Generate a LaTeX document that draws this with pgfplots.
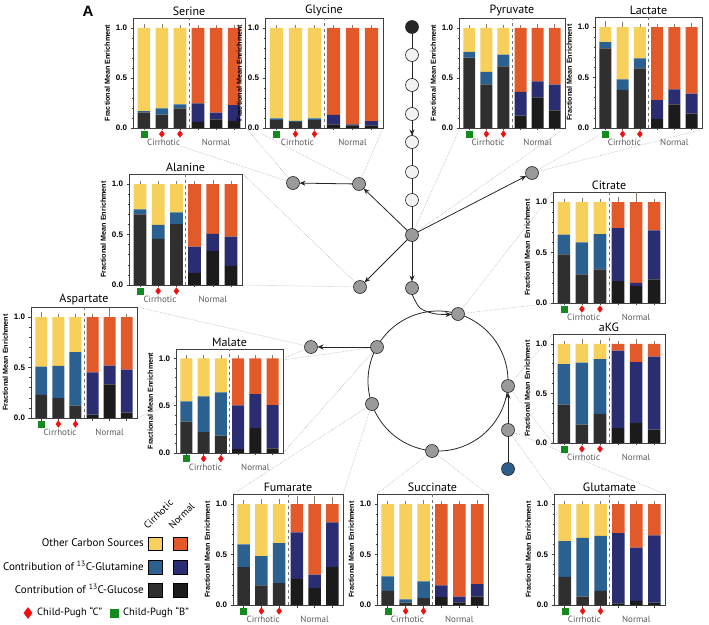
\documentclass[border=0pt]{standalone}
\usepackage{pgfplots}
\pgfplotsset{compat=1.18}
\usepackage{pgfplotstable}
\usetikzlibrary{arrows.meta}
\usepackage{fontspec}
\setmainfont{PT Sans}
\newfontfamily\lib{Liberation Sans}

\definecolor{coth}{HTML}{F7CF5B}
\definecolor{cgln}{HTML}{2A6190}
\definecolor{cglu}{HTML}{2F2F2F}
\definecolor{noth}{HTML}{E2592A}
\definecolor{ngln}{HTML}{2B2D72}
\definecolor{nglu}{HTML}{1B1B1B}
\definecolor{errc}{HTML}{8A7A66}
\definecolor{cpB}{HTML}{138A1E}
\definecolor{cpC}{HTML}{F01010}
\definecolor{nodeg}{HTML}{9A9A9A}
\definecolor{nodew}{HTML}{F2F2F2}
\definecolor{nodeb}{HTML}{2C5F8C}
\definecolor{dotc}{HTML}{B5B5B5}

\pgfplotstableread{
x cg cq co ng nq no t e
0 0.154 0.014 0.832 0 0 0 1 0.010
1 0.134 0.061 0.805 0 0 0 1 0.012
2 0.195 0.040 0.765 0 0 0 1 0.006
3 0 0 0 0.060 0.185 0.755 1 0.008
4 0 0 0 0.087 0.067 0.846 1 0.008
5 0 0 0 0.070 0.158 0.772 1 0.008
}\tSerine
\pgfplotstableread{
x cg cq co ng nq no t e
0 0.078 0.017 0.905 0 0 0 1 0.006
1 0.060 0.010 0.930 0 0 0 1 0.006
2 0.078 0.017 0.905 0 0 0 1 0.004
3 0 0 0 0.037 0.093 0.870 1 0.006
4 0 0 0 0.027 0.010 0.963 1 0.006
5 0 0 0 0.027 0.041 0.932 1 0.004
}\tGlycine
\pgfplotstableread{
x cg cq co ng nq no t e
0 0.703 0.057 0.240 0 0 0 1 0.005
1 0.437 0.123 0.440 0 0 0 1 0.010
2 0.617 0.116 0.267 0 0 0 1 0.008
3 0 0 0 0.123 0.237 0.640 1 0.005
4 0 0 0 0.307 0.160 0.533 1 0.010
5 0 0 0 0.177 0.256 0.567 1 0.010
}\tPyruvate
\pgfplotstableread{
x cg cq co ng nq no t e
0 0.790 0.060 0.150 0 0 0 1 0.040
1 0.377 0.106 0.517 0 0 0 1 0.025
2 0.590 0.100 0.310 0 0 0 1 0.008
3 0 0 0 0.090 0.187 0.723 1 0.008
4 0 0 0 0.233 0.150 0.617 1 0.010
5 0 0 0 0.143 0.197 0.660 1 0.020
}\tLactate
\pgfplotstableread{
x cg cq co ng nq no t e
0 0.700 0.050 0.250 0 0 0 1 0.005
1 0.457 0.139 0.404 0 0 0 1 0.005
2 0.603 0.117 0.280 0 0 0 1 0.005
3 0 0 0 0.120 0.260 0.620 1 0.005
4 0 0 0 0.338 0.169 0.493 1 0.012
5 0 0 0 0.190 0.290 0.520 1 0.006
}\tAlanine
\pgfplotstableread{
x cg cq co ng nq no t e
0 0.483 0.194 0.323 0 0 0 1 0.005
1 0.283 0.317 0.400 0 0 0 1 0.015
2 0.333 0.350 0.317 0 0 0 1 0.006
3 0 0 0 0.217 0.526 0.257 1 0.030
4 0 0 0 0.167 0.033 0.800 1 0.080
5 0 0 0 0.233 0.487 0.280 1 0.006
}\tCitrate
\pgfplotstableread{
x cg cq co ng nq no t e
0 0.386 0.409 0.205 0 0 0 1 0.005
1 0.185 0.627 0.188 0 0 0 1 0.020
2 0.295 0.551 0.154 0 0 0 1 0.010
3 0 0 0 0.151 0.782 0.067 1 0.006
4 0 0 0 0.200 0.615 0.185 1 0.020
5 0 0 0 0.134 0.738 0.128 1 0.006
}\taKG
\pgfplotstableread{
x cg cq co ng nq no t e
0 0.230 0.280 0.490 0 0 0 1 0.030
1 0.196 0.321 0.483 0 0 0 1 0.005
2 0.122 0.530 0.348 0 0 0 1 0.005
3 0 0 0 0.034 0.419 0.547 1 0.005
4 0 0 0 0.334 0.186 0.480 1 0.070
5 0 0 0 0.054 0.426 0.520 1 0.005
}\tAspartate
\pgfplotstableread{
x cg cq co ng nq no t e
0 0.333 0.213 0.454 0 0 0 1 0.008
1 0.220 0.380 0.400 0 0 0 1 0.006
2 0.184 0.456 0.360 0 0 0 1 0.006
3 0 0 0 0.040 0.464 0.496 1 0.010
4 0 0 0 0.262 0.362 0.376 1 0.012
5 0 0 0 0.050 0.457 0.493 1 0.006
}\tMalate
\pgfplotstableread{
x cg cq co ng nq no t e
0 0.375 0.227 0.398 0 0 0 1 0.012
1 0.194 0.291 0.515 0 0 0 1 0.030
2 0.217 0.395 0.388 0 0 0 1 0.030
3 0 0 0 0.258 0.461 0.281 1 0.060
4 0 0 0 0.167 0.133 0.700 1 0.060
5 0 0 0 0.375 0.444 0.181 1 0.050
}\tFumarate
\pgfplotstableread{
x cg cq co ng nq no t e
0 0.140 0.144 0.716 0 0 0 1 0.010
1 0.023 0.034 0.943 0 0 0 1 0.006
2 0.067 0.167 0.766 0 0 0 1 0.015
3 0 0 0 0.077 0.117 0.806 1 0.006
4 0 0 0 0.027 0.057 0.916 1 0.006
5 0 0 0 0.084 0.123 0.793 1 0.015
}\tSuccinate
\pgfplotstableread{
x cg cq co ng nq no t e
0 0.278 0.354 0.368 0 0 0 1 0.006
1 0.084 0.582 0.334 0 0 0 1 0.006
2 0.140 0.546 0.314 0 0 0 1 0.005
3 0 0 0 0.017 0.695 0.288 1 0.005
4 0 0 0 0.040 0.529 0.431 1 0.005
5 0 0 0 0.023 0.666 0.311 1 0.005
}\tGlutamate

\pgfplotsset{
  panel/.style={
    anchor=south west, scale only axis,
    axis background/.style={fill=white},
    ybar stacked, bar width=0.7,
    xmin=-0.6, xmax=5.6, ymin=0, ymax=1.1,
    xtick={0,...,5}, xticklabels={},
    ytick={0,0.5,1}, yticklabels={0.0,0.5,1.0},
    minor y tick num=4,
    tick align=outside, tick pos=left,
    major tick length=2.5pt, minor tick length=1.5pt,
    axis line style={draw=black!75, line width=0.8pt},
    every tick/.style={black!75, line width=0.6pt},
    yticklabel style={font=\lib\bfseries\fontsize{8}{8}\selectfont},
    ylabel={Fractional Mean Enrichment},
    ylabel style={font=\lib\bfseries\fontsize{7.2}{8}\selectfont, yshift=-1pt},
    title style={font=\fontsize{12}{13}\selectfont, at={(0.5,1)}, anchor=south, yshift=-7pt},
    clip=false,
  },
  dotline/.style={dotc, densely dotted, line width=0.6pt},
  pw/.style={black!85, line width=0.8pt},
  arr/.style={-{Stealth[length=6pt,width=5pt]}, shorten >=6.5pt},
}

\newcommand{\panel}[6]{%
\begin{axis}[panel, at={(#1pt,#2pt)}, width=#3pt, height=#4pt, title={#5}]
\addplot[fill=cglu, draw=none] table[x=x,y=cg]{#6};
\addplot[fill=nglu, draw=none] table[x=x,y=ng]{#6};
\addplot[fill=cgln, draw=none] table[x=x,y=cq]{#6};
\addplot[fill=ngln, draw=none] table[x=x,y=nq]{#6};
\addplot[fill=coth, draw=none] table[x=x,y=co]{#6};
\addplot[fill=noth, draw=none] table[x=x,y=no]{#6};
\addplot[sharp plot, stack plots=false, draw=none, mark=none,
  error bars/.cd, y dir=plus, y explicit,
  error bar style={draw=errc, line width=0.5pt},
  error mark options={draw=errc, line width=0.5pt, mark size=2.5pt}]
  table[x=x,y=t,y error=e]{#6};
\addplot[sharp plot, stack plots=false, dashed, black!55, line width=0.6pt] coordinates {(2.5,0) (2.5,1.1)};
\addplot[only marks, stack plots=false, mark=square*, mark size=3pt, mark options={fill=cpB, draw=cpB}] coordinates {(0,-0.06)};
\addplot[only marks, stack plots=false, mark=diamond*, mark size=3.3pt, mark options={fill=cpC, draw=cpC}] coordinates {(1,-0.06) (2,-0.06)};
\node[anchor=north, font=\fontsize{9}{10}\selectfont, text=black!65] at (axis cs:1.1,-0.075) {Cirrhotic};
\node[anchor=north, font=\fontsize{9}{10}\selectfont, text=black!65] at (axis cs:4,-0.075) {Normal};
\end{axis}}

\begin{document}
\begin{tikzpicture}
\begin{axis}[at={(0pt,0pt)}, anchor=south west, scale only axis, width=709pt, height=624pt,
  xmin=0, xmax=709, ymin=0, ymax=624, y dir=reverse, hide axis, clip=false]
% dotted connectors
\addplot[dotline] coordinates {(180,146) (293,183)};
\addplot[dotline] coordinates {(246,128) (293,183)};
\addplot[dotline] coordinates {(262,134) (359,184)};
\addplot[dotline] coordinates {(383,128) (359,184)};
\addplot[dotline] coordinates {(459,130) (412,235)};
\addplot[dotline] coordinates {(565,128) (412,235)};
\addplot[dotline] coordinates {(598,136) (532,173)};
\addplot[dotline] coordinates {(700,130) (532,173)};
\addplot[dotline] coordinates {(243,174) (360,287)};
\addplot[dotline] coordinates {(243,285) (360,287)};
\addplot[dotline] coordinates {(553,192) (458,314)};
\addplot[dotline] coordinates {(553,303) (458,314)};
\addplot[dotline] coordinates {(137,307) (311,347)};
\addplot[dotline] coordinates {(137,418) (311,347)};
\addplot[dotline] coordinates {(283,360) (377,347)};
\addplot[dotline] coordinates {(283,453) (377,347)};
\addplot[dotline] coordinates {(553,334) (508,386)};
\addplot[dotline] coordinates {(553,443) (508,386)};
\addplot[dotline] coordinates {(554,494) (508,430)};
\addplot[dotline] coordinates {(665,494) (508,430)};
\addplot[dotline] coordinates {(233,494) (372,404)};
\addplot[dotline] coordinates {(343,494) (372,404)};
\addplot[dotline] coordinates {(377,494) (432,451)};
\addplot[dotline] coordinates {(488,494) (432,451)};
% pathway
\addplot[pw] coordinates {(412,27) (412,235)};
\addplot[pw, arr] coordinates {(412,114) (412,142)};
\addplot[pw, arr] coordinates {(412,235) (359,184)};
\addplot[pw, arr] coordinates {(359,184) (293,183)};
\addplot[pw, arr] coordinates {(412,235) (532,173)};
\addplot[pw, arr] coordinates {(412,235) (360,287)};
\addplot[pw, arr] coordinates {(412,235) (412,288)};
\addplot[pw, arr, smooth] coordinates {(412,294) (420,308) (436,314) (458,314)};
\addplot[pw, arr] coordinates {(377,347) (311,347)};
\addplot[pw] coordinates {(508,469) (508,430)};
\addplot[pw, arr] coordinates {(508,430) (508,386)};
\draw[black!85, line width=0.8pt] (axis cs:438,381) circle[radius=70pt];
% nodes
\addplot[only marks, mark=*, mark size=6.5pt, mark options={fill=nodeg, draw=black!85, line width=0.6pt}]
  coordinates {(359,184) (293,183) (412,235) (532,173) (360,287) (412,288) (458,314) (377,347) (311,347) (372,404) (432,451) (508,386) (508,430)};
\addplot[only marks, mark=*, mark size=6.5pt, mark options={fill=nodew, draw=black!85, line width=0.6pt}]
  coordinates {(412,55) (412,85) (412,114) (412,142) (412,172) (412,200)};
\addplot[only marks, mark=*, mark size=6.5pt, mark options={fill=black!85, draw=black!85, line width=0.6pt}]
  coordinates {(412,27)};
\addplot[only marks, mark=*, mark size=6.5pt, mark options={fill=nodeb, draw=black!85, line width=0.6pt}]
  coordinates {(508,469)};
% panel letter
\node[font=\lib\bfseries\fontsize{15}{16}\selectfont] at (axis cs:88,11) {A};
% legend
\node[rotate=45, anchor=south west, font=\fontsize{10}{10}\selectfont, inner sep=0pt] at (axis cs:148,530) {Cirrhotic};
\node[rotate=45, anchor=south west, font=\fontsize{10}{10}\selectfont, inner sep=0pt] at (axis cs:173,530) {Normal};
\addplot[only marks, mark=square*, mark size=6.8pt, mark options={fill=coth, draw=none}] coordinates {(155,543.5)};
\addplot[only marks, mark=square*, mark size=6.8pt, mark options={fill=noth, draw=none}] coordinates {(180,543.5)};
\addplot[only marks, mark=square*, mark size=6.8pt, mark options={fill=cgln, draw=none}] coordinates {(155,567)};
\addplot[only marks, mark=square*, mark size=6.8pt, mark options={fill=ngln, draw=none}] coordinates {(180,567)};
\addplot[only marks, mark=square*, mark size=6.8pt, mark options={fill=cglu, draw=none}] coordinates {(155,590)};
\addplot[only marks, mark=square*, mark size=6.8pt, mark options={fill=nglu, draw=none}] coordinates {(180,590)};
\node[anchor=east, font=\fontsize{11}{12}\selectfont, inner sep=0pt] at (axis cs:144,543) {Other Carbon Sources};
\node[anchor=east, font=\fontsize{11}{12}\selectfont, inner sep=0pt] at (axis cs:144,566) {Contribution of \textsuperscript{13}C-Glutamine};
\node[anchor=east, font=\fontsize{11}{12}\selectfont, inner sep=0pt] at (axis cs:144,589) {Contribution of \textsuperscript{13}C-Glucose};
\addplot[only marks, mark=diamond*, mark size=5.5pt, mark options={fill=cpC, draw=cpC}] coordinates {(28,613)};
\addplot[only marks, mark=square*, mark size=4.3pt, mark options={fill=cpB, draw=cpB}] coordinates {(114,613)};
\node[anchor=west, font=\fontsize{10.5}{11}\selectfont, inner sep=0pt] at (axis cs:37,613) {Child-Pugh “C”};
\node[anchor=west, font=\fontsize{10.5}{11}\selectfont, inner sep=0pt] at (axis cs:123,613) {Child-Pugh “B”};
\end{axis}
\panel{133}{496}{112}{110}{Serine}{\tSerine}
\panel{265}{496}{118}{110}{Glycine}{\tGlycine}
\panel{459}{496}{106}{110}{Pyruvate}{\tPyruvate}
\panel{595}{496}{107}{111}{Lactate}{\tLactate}
\panel{129}{339}{113}{111}{Alanine}{\tAlanine}
\panel{553}{321}{112}{111}{Citrate}{\tCitrate}
\panel{31}{206}{106}{111}{Aspartate}{\tAspartate}
\panel{176}{171}{107}{104}{Malate}{\tMalate}
\panel{553}{181}{112}{109}{aKG}{\taKG}
\panel{233}{19}{110}{111}{Fumarate}{\tFumarate}
\panel{377}{19}{111}{111}{Succinate}{\tSuccinate}
\panel{554}{19}{111}{111}{Glutamate}{\tGlutamate}
\pgfresetboundingbox
\path[use as bounding box] (0,0) rectangle (709pt,624pt);
\end{tikzpicture}
\end{document}
